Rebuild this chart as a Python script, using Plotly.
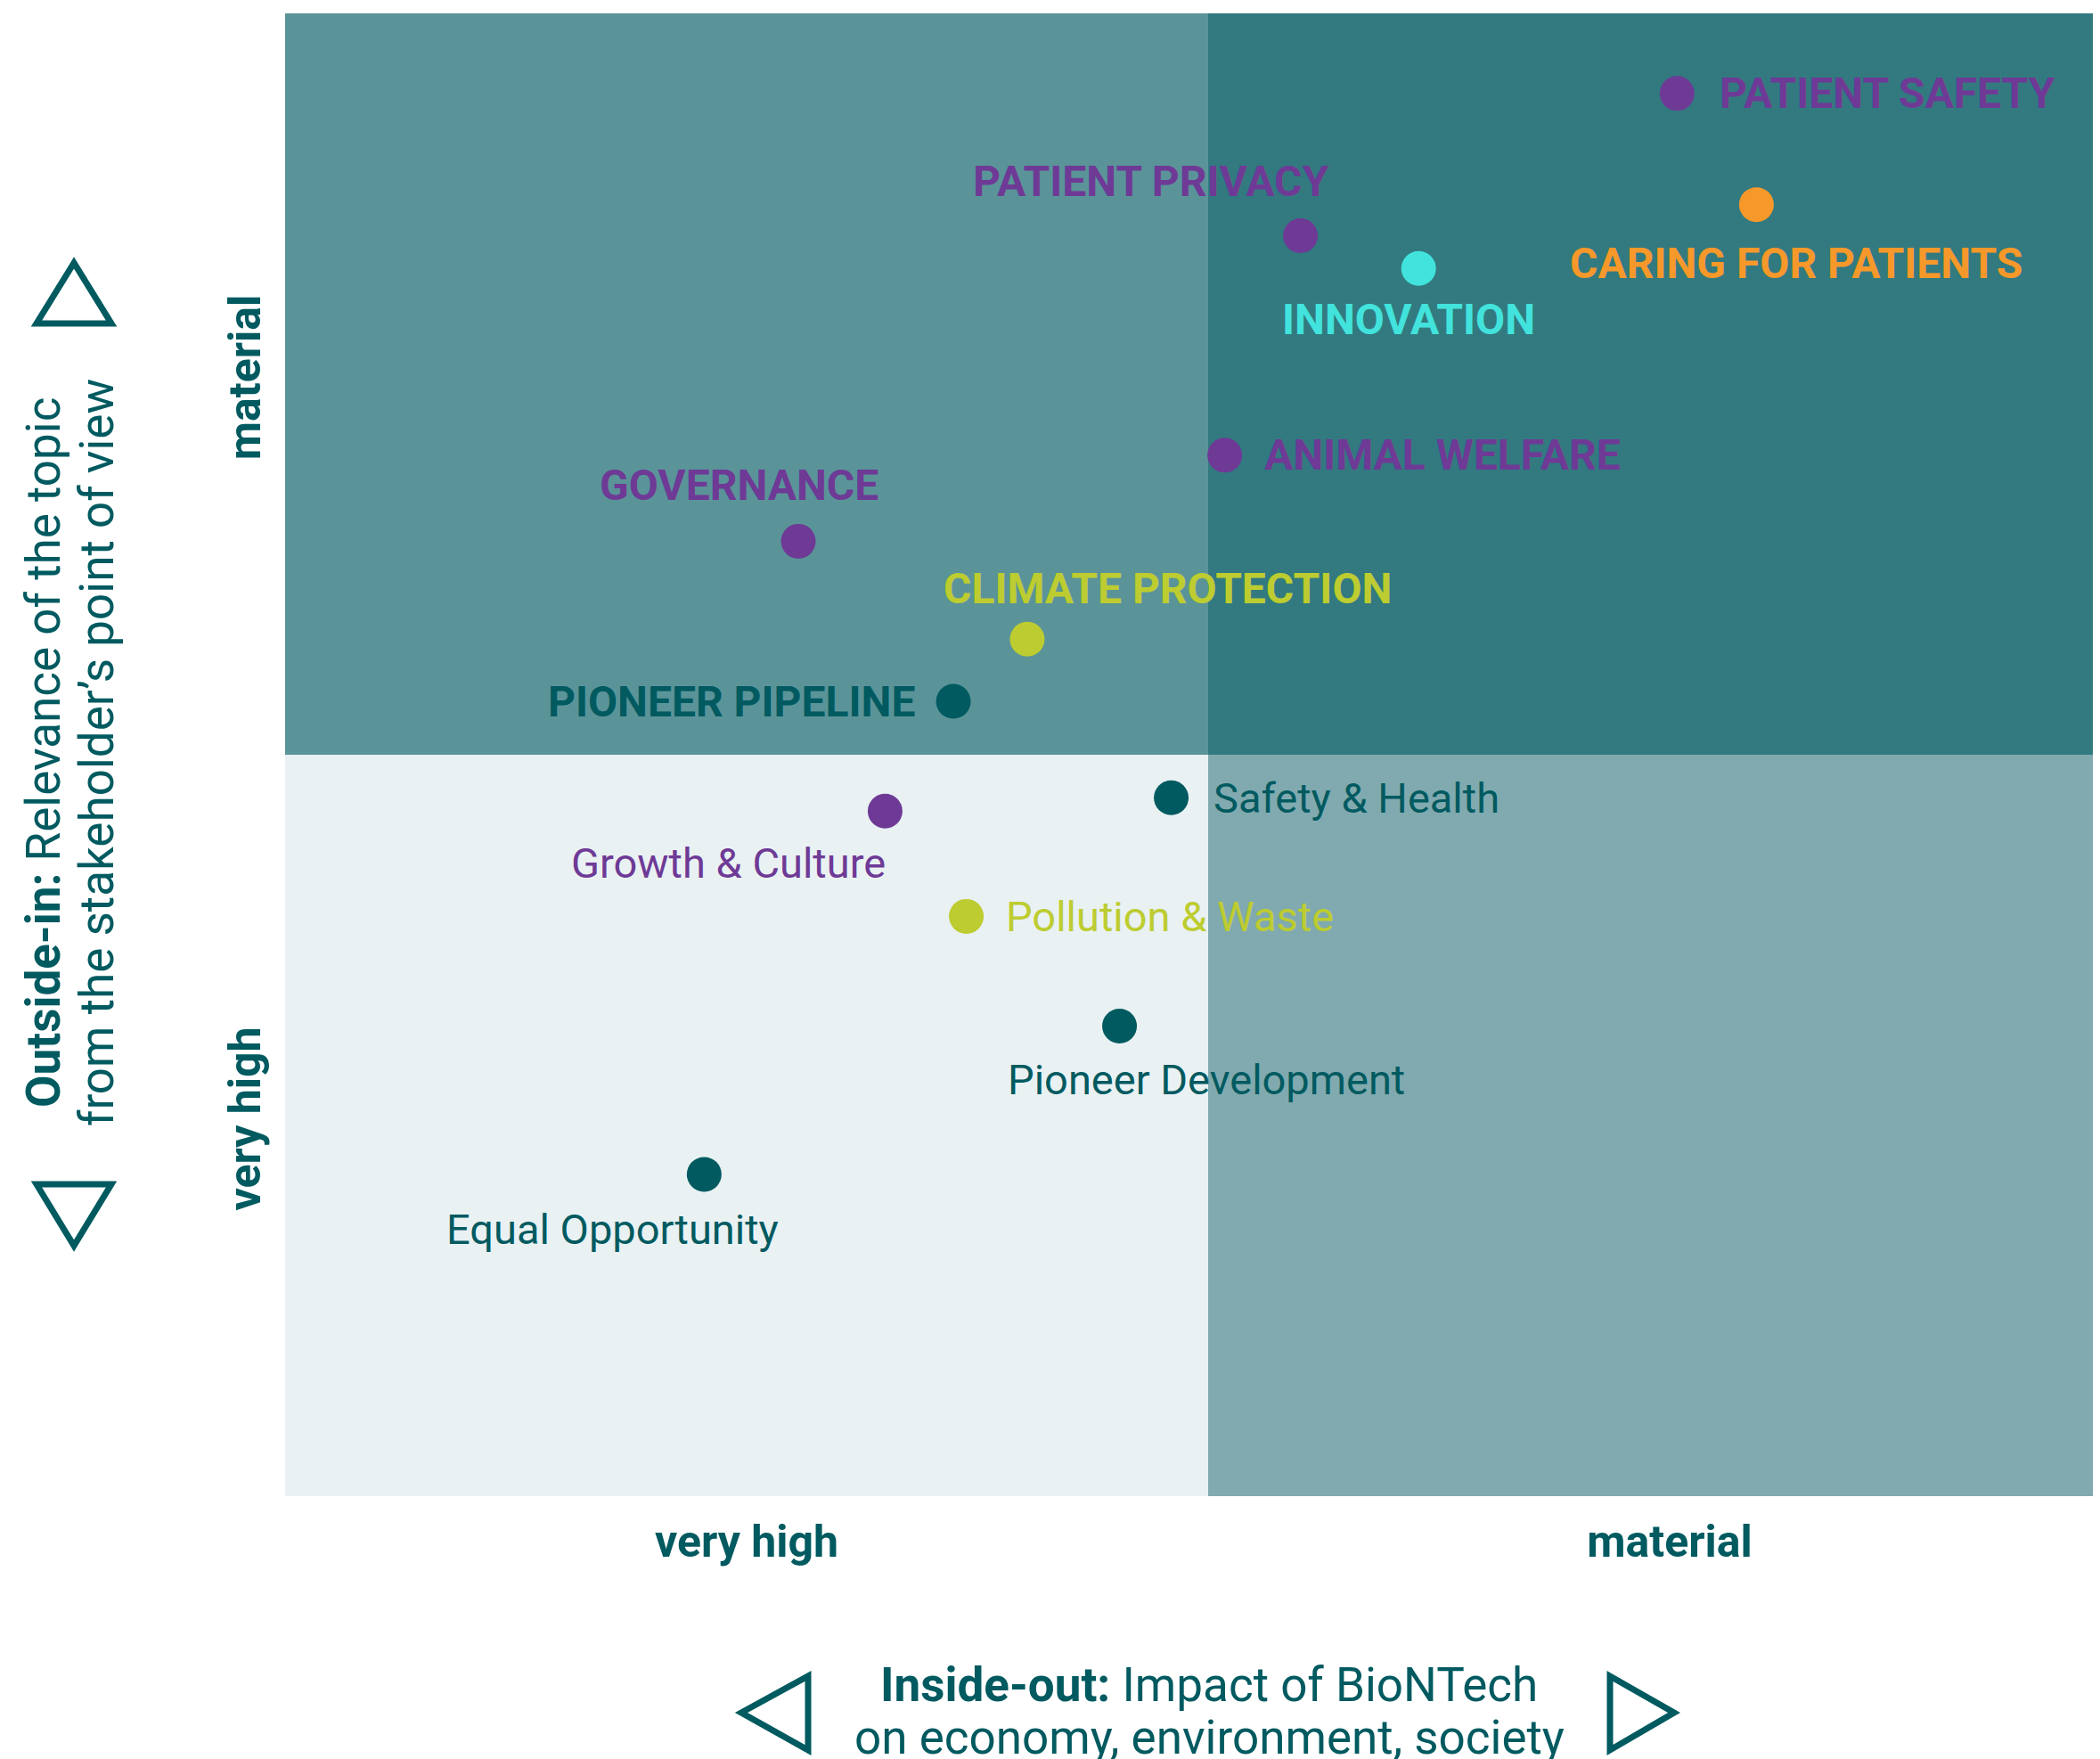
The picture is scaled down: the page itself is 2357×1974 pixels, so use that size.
import plotly.graph_objects as go

# ---------------- data ----------------
topics = [
    "PATIENT SAFETY", "CARING FOR PATIENTS", "PATIENT PRIVACY", "INNOVATION",
    "ANIMAL WELFARE", "GOVERNANCE", "CLIMATE PROTECTION", "PIONEER PIPELINE",
    "Safety & Health", "Growth & Culture", "Pollution & Waste",
    "Pioneer Development", "Equal Opportunity",
]
# Inside-out: impact of BioNTech (x), Outside-in: stakeholder relevance (y)
impact = [7.54, 7.97, 5.50, 6.14, 5.09, 2.78, 4.02, 3.62, 4.80, 3.25, 3.69, 4.52, 2.27]
relevance = [9.46, 8.71, 8.50, 8.28, 7.02, 6.44, 5.78, 5.36, 4.71, 4.62, 3.91, 3.17, 2.17]
groups = [
    "Responsibility", "Patients", "Responsibility", "Innovation",
    "Responsibility", "Responsibility", "Environment", "People",
    "People", "Responsibility", "Environment", "People", "People",
]
x_tick_vals = [2.5, 7.5]
x_tick_text = ["very high", "material"]
y_tick_vals = [2.5, 7.5]
y_tick_text = ["very high", "material"]

# ---------------- style ----------------
OFF = 8  # page body margin
W, H = 2349, 1966
ML, MR, MT, MB = 312, 0, 7, 295
PW, PH = W - ML - MR, H - MT - MB
XMAX = PW / 207.2
THRESH = 5.0

TEAL = "#005A60"
group_colors = {
    "Responsibility": "#6E3A96",
    "Patients": "#F7982A",
    "Innovation": "#42E3DC",
    "Environment": "#BDCC30",
    "People": "#005A60",
}
FONT = "Roboto"

# label placement (anchor, xshift, yshift) in pixels
label_pos = [
    ("left", 46, 0), ("center", 45, -66), ("right", 33, 61), ("center", -11, -57),
    ("left", 42, 0), ("right", 92, 63), ("left", -96, 57), ("right", -41, 0),
    ("left", 45, 0), ("right", 3, -58), ("left", 42, 0), ("left", -128, -60),
    ("right", 86, -62),
]

fig = go.Figure()

quads = [
    (0, THRESH, THRESH, 10, "#5A9499"),
    (THRESH, 10, THRESH, 10, "#327A80"),
    (0, THRESH, 0, THRESH, "#E9F1F3"),
    (THRESH, 10, 0, THRESH, "#80AAAF"),
]
for x0, x1, y0, y1, c in quads:
    fig.add_shape(type="rect", xref="x", yref="y", x0=x0, x1=x1, y0=y0, y1=y1,
                  fillcolor=c, line=dict(width=0), layer="below")

fig.add_trace(go.Scatter(
    x=impact, y=relevance, mode="markers", text=topics, hoverinfo="text",
    marker=dict(size=39, color=[group_colors[g] for g in groups], line=dict(width=0)),
    showlegend=False, cliponaxis=False,
))

for t, xv, yv, g, (anc, xs, ys) in zip(topics, impact, relevance, groups, label_pos):
    material = yv > THRESH
    fig.add_annotation(
        x=xv, y=yv, xref="x", yref="y", showarrow=False,
        text=f"<b>{t}</b>" if material else t,
        xanchor=anc, yanchor="middle", xshift=xs, yshift=ys,
        font=dict(family=FONT, size=48 if material else 47, color=group_colors[g]),
    )


def px(xp):
    return (xp - OFF - ML) / PW


def py(yp):
    return (MT + PH - (yp - OFF)) / PH


# axis titles (two lines each)
for txt, xc in [("<b>Outside-in:</b> Relevance of the topic", 49),
                ("from the stakeholder’s point of view", 109)]:
    fig.add_annotation(
        xref="paper", yref="paper", x=px(xc), y=py(845), showarrow=False, textangle=-90,
        text=txt, font=dict(family=FONT, size=53, color=TEAL),
        xanchor="center", yanchor="middle",
    )
for txt, yc in [("<b>Inside-out:</b> Impact of BioNTech", 1891),
                ("on economy, environment, society", 1950)]:
    fig.add_annotation(
        xref="paper", yref="paper", x=px(1357), y=py(yc), showarrow=False,
        text=txt, font=dict(family=FONT, size=53, color=TEAL),
        xanchor="center", yanchor="middle",
    )

# arrow triangles (decoration)
tris = [
    [(83, 295), (41, 363), (125, 363)],
    [(41, 1329), (125, 1329), (83, 1398)],
    [(832, 1922), (907, 1881), (907, 1964)],
    [(1879, 1922), (1807, 1881), (1807, 1964)],
]
for tri in tris:
    path = "M " + " L ".join(f"{px(a):.5f},{py(b):.5f}" for a, b in tri) + " Z"
    fig.add_shape(type="path", xref="paper", yref="paper", path=path,
                  line=dict(color=TEAL, width=7), fillcolor="rgba(0,0,0,0)")

fig.update_xaxes(
    range=[0, XMAX], showgrid=False, zeroline=False, showline=False,
    tickvals=x_tick_vals, ticktext=[f"<b>{t}</b>" for t in x_tick_text],
    ticks="outside", ticklen=7, tickcolor="rgba(0,0,0,0)",
    tickfont=dict(family=FONT, size=50, color=TEAL), fixedrange=True,
)
fig.update_yaxes(
    range=[0, 10], showgrid=False, zeroline=False, showline=False,
    tickvals=y_tick_vals, ticktext=[f"<b>{t}</b>" for t in y_tick_text],
    tickangle=-90, ticks="outside", ticklen=7, tickcolor="rgba(0,0,0,0)",
    tickfont=dict(family=FONT, size=50, color=TEAL), fixedrange=True,
)
fig.update_layout(
    width=W, height=H, margin=dict(l=ML, r=MR, t=MT, b=MB, pad=0),
    paper_bgcolor="white", plot_bgcolor="white",
    font=dict(family=FONT, color=TEAL),
)
fig.write_html("out.html")
